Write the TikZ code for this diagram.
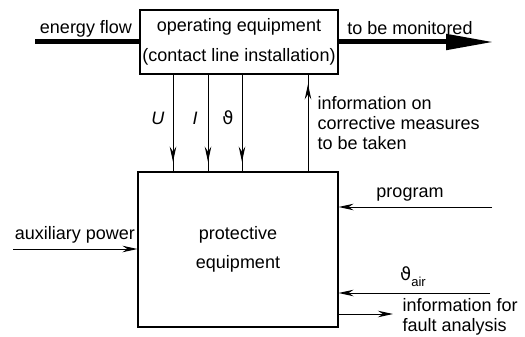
\documentclass[tikz,border=0pt]{standalone}
\usepackage{fontspec}
\setmainfont{Liberation Sans}
\newfontfamily\grk{DejaVu Sans}
\usetikzlibrary{arrows.meta,decorations.markings}

\begin{document}
\begin{tikzpicture}[x=1pt,y=-1pt,
  font=\fontsize{18}{21}\selectfont,
  box/.style={draw,line width=1.1pt,inner xsep=0pt,align=center},
  sig/.style={line width=1pt,-{Stealth[length=15pt,width=6.5pt]}},
  midtip/.style={line width=1pt,postaction={decorate},
    decoration={markings,mark=at position 0.9 with {\arrow{Stealth[length=15pt,width=6.5pt]}}}}]

\useasboundingbox (0,0) rectangle (525,337);

% Boxes
\node[box, minimum width=198pt, minimum height=64pt] (oper) at (239,42)
  {operating equipment\\[9pt](contact line installation)};
\node[box, minimum width=200pt, minimum height=155pt] (prot) at (238,249.5)
  {protective\\[8pt]equipment};

% Energy flow through the top box
\coordinate (ein) at (35,42);
\coordinate (eout) at (494,42);
\draw[line width=5pt] (ein) -- (oper.west);
\draw[line width=5pt, -{Triangle[length=48pt,width=15pt]}] (oper.east) -- (eout);
\node (eflow) at (86,29) {energy flow};
\node (mon) at (410,28) {to be monitored};

% Measured values down, information up
\coordinate (xu) at (173,0);
\coordinate (xi) at (208,0);
\coordinate (xt) at (242,0);
\coordinate (xc) at (308,0);
\draw[midtip] (xu |- oper.south) -- (xu |- prot.north);
\draw[midtip] (xi |- oper.south) -- (xi |- prot.north);
\draw[midtip] (xt |- oper.south) -- (xt |- prot.north);
\draw[midtip] (xc |- prot.north) -- (xc |- oper.south);
\node (lu) at (158,118) {\textit{U}};
\node (li) at (195,118) {\textit{I}};
\node (lt) at (228,118) {\grk ϑ};
\node[align=left, anchor=west, font=\fontsize{18}{20}\selectfont] (info) at (314,123)
  {information on\\corrective measures\\to be taken};

% Inputs and output on the sides
\coordinate (aux) at (13,249);
\draw[sig] (aux) -- (aux -| prot.west);
\node (auxl) at (75,235) {auxiliary power};

\coordinate (prog) at (492,207);
\draw[sig] (prog) -- (prog -| prot.east);
\node (progl) at (410,195) {program};

\coordinate (air) at (490,293);
\draw[sig] (air) -- (air -| prot.east);
\node (airl) at (413,277) {{\grk ϑ}\raisebox{-6pt}{\fontsize{13}{13}\selectfont air}};

\coordinate (fault) at (393,314);
\draw[sig] (fault -| prot.east) -- (fault);
\node[align=left, anchor=west, font=\fontsize{18}{20}\selectfont] (faultl) at (399,317)
  {information for\\fault analysis};

\end{tikzpicture}
\end{document}
